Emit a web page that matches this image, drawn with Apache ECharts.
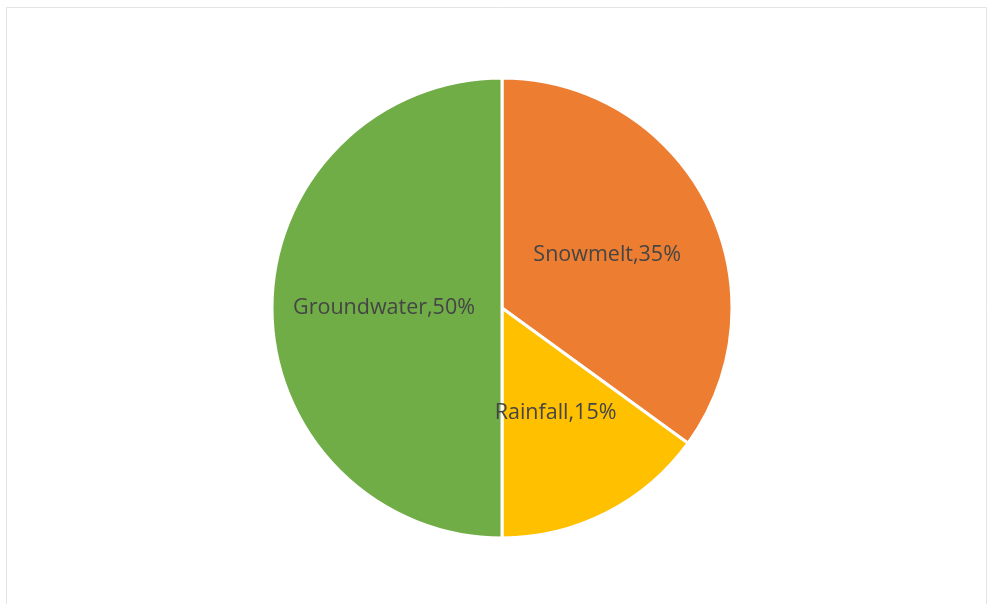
<!DOCTYPE html>
<html>
<head>
<meta charset="utf-8">
<script src="https://cdn.jsdelivr.net/npm/echarts@6/dist/echarts.min.js"></script>
<style>
    html, body { margin: 0; padding: 0; background: #fff; }
    #chart { width: 990px; height: 604px; }
</style>
</head>
<body>
<div id="chart"></div>
<script>
    // 水源构成数据
    var categories = ['Snowmelt', 'Rainfall', 'Groundwater'];
    var shares = [35, 15, 50];
    var colors = ['#ED7D31', '#FFC000', '#70AD47'];

    var myChart = echarts.init(document.getElementById('chart'));
    var option = {
        backgroundColor: '#fff',
        graphic: [{
            type: 'rect',
            shape: { x: 6.5, y: 7.5, width: 980, height: 610 },
            style: { fill: 'none', stroke: '#e4e4e4', lineWidth: 1 },
            silent: true
        }],
        series: [{
            type: 'pie',
            center: [502, 308],
            radius: [0, 230],
            startAngle: 90,
            clockwise: true,
            animation: false,
            itemStyle: { borderColor: '#fff', borderWidth: 3 },
            label: {
                show: true,
                position: 'inside',
                formatter: '{b},{d}%',
                color: '#454545',
                fontSize: 21.5,
                fontFamily: 'Open Sans',
                padding: [5, 0, 0, 0]
            },
            labelLine: { show: false },
            emphasis: { disabled: true },
            data: categories.map(function (name, i) {
                return { name: name, value: shares[i], itemStyle: { color: colors[i] } };
            })
        }]
    };
    myChart.setOption(option);
</script>
</body>
</html>
